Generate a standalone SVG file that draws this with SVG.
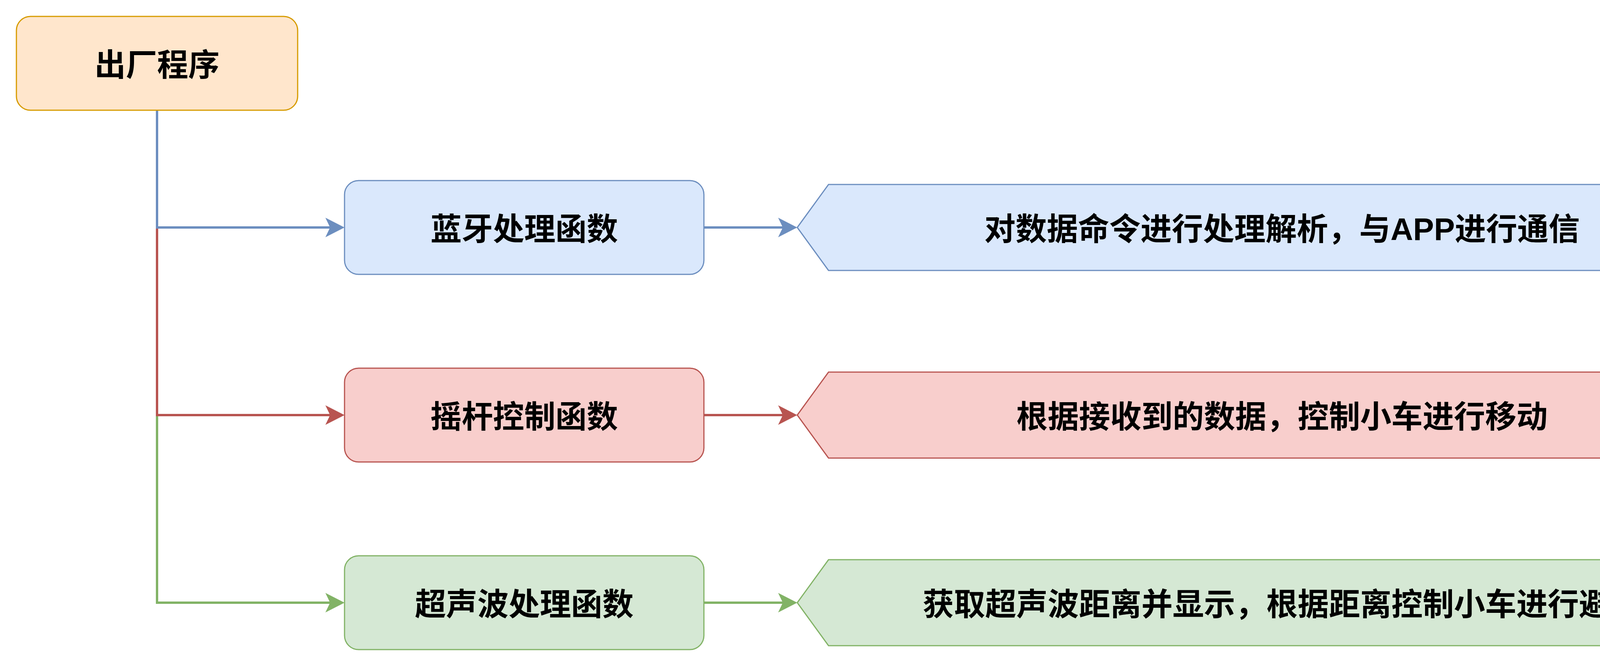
<svg xmlns="http://www.w3.org/2000/svg" width="4564" height="1704" viewBox="0 0 4564 1704">
<style>
.t{font-family:"Liberation Sans","Noto Sans CJK SC",sans-serif;font-weight:bold;font-size:80px;text-anchor:middle;fill:#000}
.box{stroke-width:3}
.ln{fill:none;stroke-width:6}
.o{fill:#ffe6cc;stroke:#d79b00}
.b{fill:#dae8fc;stroke:#6c8ebf}
.r{fill:#f8cecc;stroke:#b85450}
.g{fill:#d5e8d4;stroke:#82b366}
</style>
<rect width="4564" height="1704" fill="#ffffff"/>
<g id="connectors">
<path class="ln" stroke="#82b366" d="M402,282 V1542 H846"/>
<path fill="#82b366" d="M882,1542 L833,1517 L845,1542 L833,1567 Z"/>
<path class="ln" stroke="#b85450" d="M402,282 V1062 H846"/>
<path fill="#b85450" d="M882,1062 L833,1037 L845,1062 L833,1087 Z"/>
<path class="ln" stroke="#6c8ebf" d="M402,282 V582 H846"/>
<path fill="#6c8ebf" d="M882,582 L833,557 L845,582 L833,607 Z"/>
<path class="ln" stroke="#6c8ebf" d="M1802,582 H2005"/>
<path fill="#6c8ebf" d="M2041,582 L1992,557 L2004,582 L1992,607 Z"/>
<path class="ln" stroke="#b85450" d="M1802,1062 H2005"/>
<path fill="#b85450" d="M2041,1062 L1992,1037 L2004,1062 L1992,1087 Z"/>
<path class="ln" stroke="#82b366" d="M1802,1542 H2005"/>
<path fill="#82b366" d="M2041,1542 L1992,1517 L2004,1542 L1992,1567 Z"/>
</g>
<g id="start">
<rect class="box o" x="42" y="42" width="720" height="240" rx="36" ry="36"/>
<text class="t" x="402" y="194">出厂程序</text>
</g>
<g id="bluetooth">
<rect class="box b" x="882" y="462" width="920" height="240" rx="36" ry="36"/>
<text class="t" x="1342" y="614">蓝牙处理函数</text>
</g>
<g id="joystick">
<rect class="box r" x="882" y="942" width="920" height="240" rx="36" ry="36"/>
<text class="t" x="1342" y="1094">摇杆控制函数</text>
</g>
<g id="ultrasonic">
<rect class="box g" x="882" y="1422" width="920" height="240" rx="36" ry="36"/>
<text class="t" x="1342" y="1574">超声波处理函数</text>
</g>
<g id="bluetooth-desc">
<polygon class="box b" points="2041,582 2121,472 4442,472 4523,582 4442,692 2121,692"/>
<text class="t" x="3282" y="614">对数据命令进行处理解析，与APP进行通信</text>
</g>
<g id="joystick-desc">
<polygon class="box r" points="2041,1062 2121,952 4442,952 4523,1062 4442,1172 2121,1172"/>
<text class="t" x="3282" y="1094">根据接收到的数据，控制小车进行移动</text>
</g>
<g id="ultrasonic-desc">
<polygon class="box g" points="2041,1542 2121,1432 4442,1432 4523,1542 4442,1652 2121,1652"/>
<text class="t" x="3282" y="1574">获取超声波距离并显示，根据距离控制小车进行避障</text>
</g>
</svg>
